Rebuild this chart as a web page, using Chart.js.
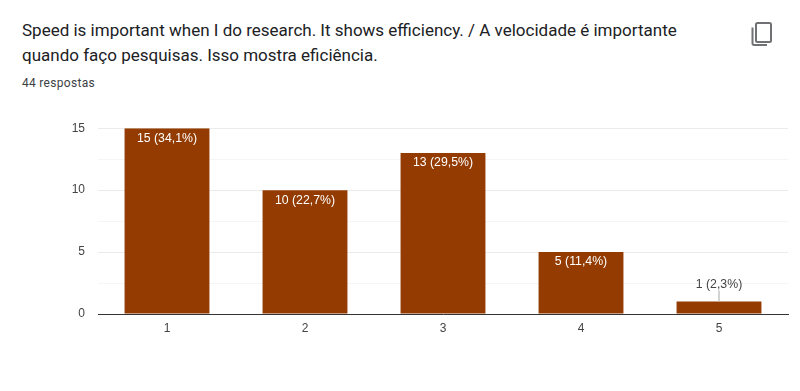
<!DOCTYPE html>
<html>
<head>
<meta charset="utf-8">
<script src="https://cdn.jsdelivr.net/npm/chart.js@4"></script>
<style>
  html, body { margin: 0; padding: 0; background: #fff; }
  body { width: 800px; height: 391px; overflow: hidden; position: relative; font-family: Roboto, sans-serif; }
  #title { position: absolute; left: 22px; top: 18px; width: 700px; font-size: 17px; line-height: 25px; color: #202124; }
  #count { position: absolute; left: 22px; top: 76px; font-size: 12px; line-height: 15px; color: #3c4043; letter-spacing: 0.3px; }
  #copy { position: absolute; left: 749px; top: 20px; }
  #wrap { position: absolute; left: 0; top: 108px; width: 800px; height: 242px; }
</style>
</head>
<body>
<div id="title">Speed is important when I do research. It shows efficiency. / A velocidade é importante<br>quando faço pesquisas. Isso mostra eficiência.</div>
<div id="count">44 respostas</div>
<svg id="copy" width="26" height="28" viewBox="0 0 26 28" fill="none" stroke="#6f7175" stroke-width="2">
  <rect x="7" y="3" width="15" height="19" rx="1.5"/>
  <path d="M3.5 7.5 V23.5 a1.5 1.5 0 0 0 1.5 1.5 H18"/>
</svg>
<div id="wrap"><canvas id="chart" width="800" height="242"></canvas></div>
<script>
var categories = ['1', '2', '3', '4', '5'];
var values     = [15, 10, 13, 5, 1];
var labels     = ['15 (34,1%)', '10 (22,7%)', '13 (29,5%)', '5 (11,4%)', '1 (2,3%)'];
var yTicks     = [0, 2.5, 5, 7.5, 10, 12.5, 15];

// Value labels: white inside tall bars, grey with a leader line above short ones
var barLabels = {
	id: 'barLabels',
	afterDatasetsDraw: function( chart ){
		var ctx  = chart.ctx,
		meta     = chart.getDatasetMeta(0);

		ctx.save();
		ctx.font = '12.3px Arial, "Liberation Sans", sans-serif';
		ctx.textAlign = 'center';
		ctx.textBaseline = 'middle';

		meta.data.forEach(function( bar, i ){
			if( values[i] > 1 ){
				ctx.fillStyle = '#ffffff';
				ctx.fillText( labels[i], bar.x, bar.y + 10 );
			} else {
				ctx.strokeStyle = '#c4c4c4';
				ctx.lineWidth = 1.5;
				ctx.beginPath();
				ctx.moveTo( bar.x, bar.y );
				ctx.lineTo( bar.x, bar.y - 11 );
				ctx.stroke();
				ctx.fillStyle = '#444444';
				ctx.fillText( labels[i], bar.x, bar.y - 17 );
			}
		});
		ctx.restore();
	}
};

new Chart(document.getElementById('chart').getContext('2d'), {
	type: 'bar',
	data: {
		labels: categories,
		datasets: [{
			data: values,
			backgroundColor: '#933b00',
			borderWidth: 0,
			categoryPercentage: 1,
			barPercentage: 0.615
		}]
	},
	options: {
		responsive: false,
		animation: false,
		layout: { padding: { top: 11, right: 12, bottom: 0, left: 0 } },
		plugins: { legend: { display: false }, tooltip: { enabled: false } },
		scales: {
			x: {
				grid: { display: false, drawTicks: false },
				border: { color: '#333333', width: 1 },
				ticks: { color: '#444444', font: { family: 'Arial, "Liberation Sans", sans-serif', size: 12 }, padding: 7, maxRotation: 0 },
				afterFit: function( scale ){ scale.height = 36; }
			},
			y: {
				min: 0,
				max: 15,
				afterBuildTicks: function( scale ){
					scale.ticks = yTicks.map(function( v ){ return { value: v }; });
				},
				grid: {
					drawTicks: false,
					color: function( c ){ return c.tick.value % 5 === 0 ? '#ebebeb' : '#f5f5f5'; }
				},
				border: { display: false },
				ticks: {
					color: '#444444',
					font: { family: 'Arial, "Liberation Sans", sans-serif', size: 12 },
					padding: 13,
					autoSkip: false,
					callback: function( v ){ return v % 5 === 0 ? v : ''; }
				},
				afterFit: function( scale ){ scale.width = 98; }
			}
		}
	},
	plugins: [barLabels]
});
</script>
</body>
</html>
